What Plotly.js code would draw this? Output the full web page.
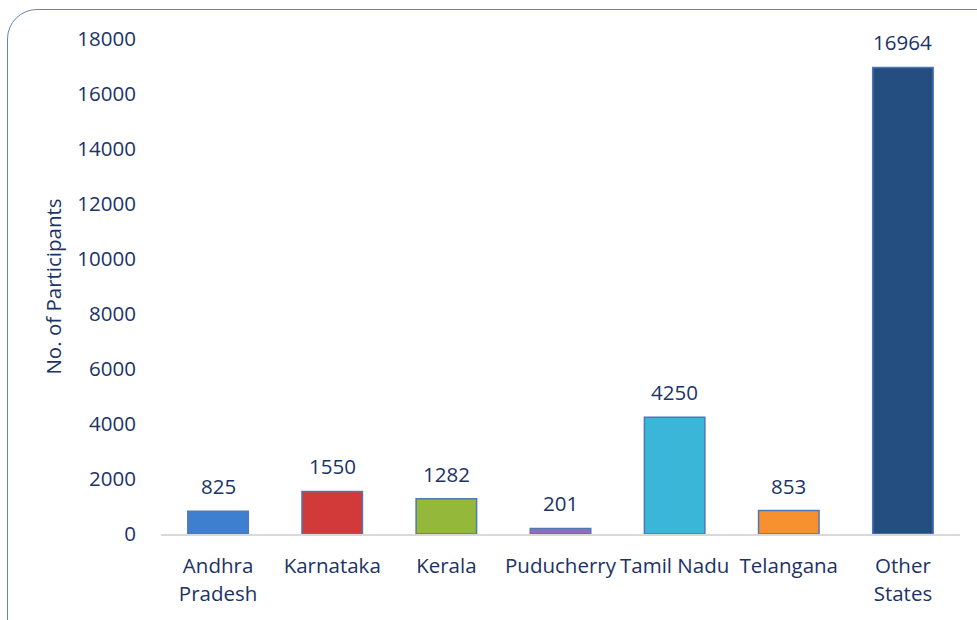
<!DOCTYPE html>
<html>
<head>
<meta charset="utf-8">
<script src="https://cdn.plot.ly/plotly-3.0.1.min.js"></script>
<style>
  html, body { margin: 0; padding: 0; background: #ffffff; overflow: hidden; }
  #wrap { position: relative; width: 977px; height: 620px; }
  #chart { position: absolute; left: 0; top: 0; width: 977px; height: 620px; }
  #frame { position: absolute; left: 7px; top: 9px; width: 1010px; height: 660px;
           border: 1.8px solid #5b87c6; border-radius: 30px; pointer-events: none; box-sizing: border-box; }
</style>
</head>
<body>
<div id="wrap">
  <div id="chart"></div>
  <div id="frame"></div>
</div>
<script>
const categories = ["Andhra<br>Pradesh", "Karnataka", "Kerala", "Puducherry", "Tamil Nadu", "Telangana", "Other<br>States"];
const participants = [825, 1550, 1282, 201, 4250, 853, 16964];
const barColors = ["#3f7fcf", "#d23a3a", "#94b83a", "#8a6fc0", "#3ab6d8", "#f7902e", "#244e80"];
const yTicks = [0, 2000, 4000, 6000, 8000, 10000, 12000, 14000, 16000, 18000];

const textColor = "#1b3366";
const fontFamily = "'Open Sans', 'Noto Sans', sans-serif";
const fs = 20.5;

const trace = {
  type: "bar",
  x: categories,
  y: participants,
  width: 0.53,
  marker: { color: barColors, line: { color: "#4f78b5", width: 1.5 } },
  hoverinfo: "x+y"
};

const annotations = categories.map((c, i) => ({
  x: c, y: participants[i], xref: "x", yref: "y",
  text: String(participants[i]), showarrow: false,
  yanchor: "bottom", yshift: 9,
  font: { family: fontFamily, size: fs, color: textColor }
}));

const layout = {
  width: 977, height: 620,
  margin: { l: 161, r: 17, t: 39, b: 86 },
  paper_bgcolor: "#ffffff", plot_bgcolor: "#ffffff",
  showlegend: false,
  font: { family: fontFamily, size: fs, color: textColor },
  xaxis: {
    type: "category",
    showline: true, linecolor: "#d9d9d9", linewidth: 2,
    showgrid: false, zeroline: false,
    ticks: "outside", ticklen: 12, tickcolor: "rgba(0,0,0,0)",
    tickfont: { family: fontFamily, size: fs, color: textColor }
  },
  yaxis: {
    range: [0, 18000],
    tickvals: yTicks,
    ticktext: yTicks.map(String),
    showgrid: false, zeroline: false, showline: false,
    ticks: "outside", ticklen: 20, tickcolor: "rgba(0,0,0,0)",
    tickfont: { family: fontFamily, size: fs, color: textColor },
    title: { text: "No. of Participants", standoff: 10,
             font: { family: fontFamily, size: fs, color: textColor } }
  },
  annotations: annotations
};

Plotly.newPlot("chart", [trace], layout, { displayModeBar: false, staticPlot: true }).then(() => {
  // increase line spacing of multi-line category labels
  document.querySelectorAll(".xtick text tspan.line").forEach(t => {
    if (t.getAttribute("dy") && parseFloat(t.getAttribute("dy")) > 0) t.setAttribute("dy", "1.4em");
  });
});
</script>
</body>
</html>
